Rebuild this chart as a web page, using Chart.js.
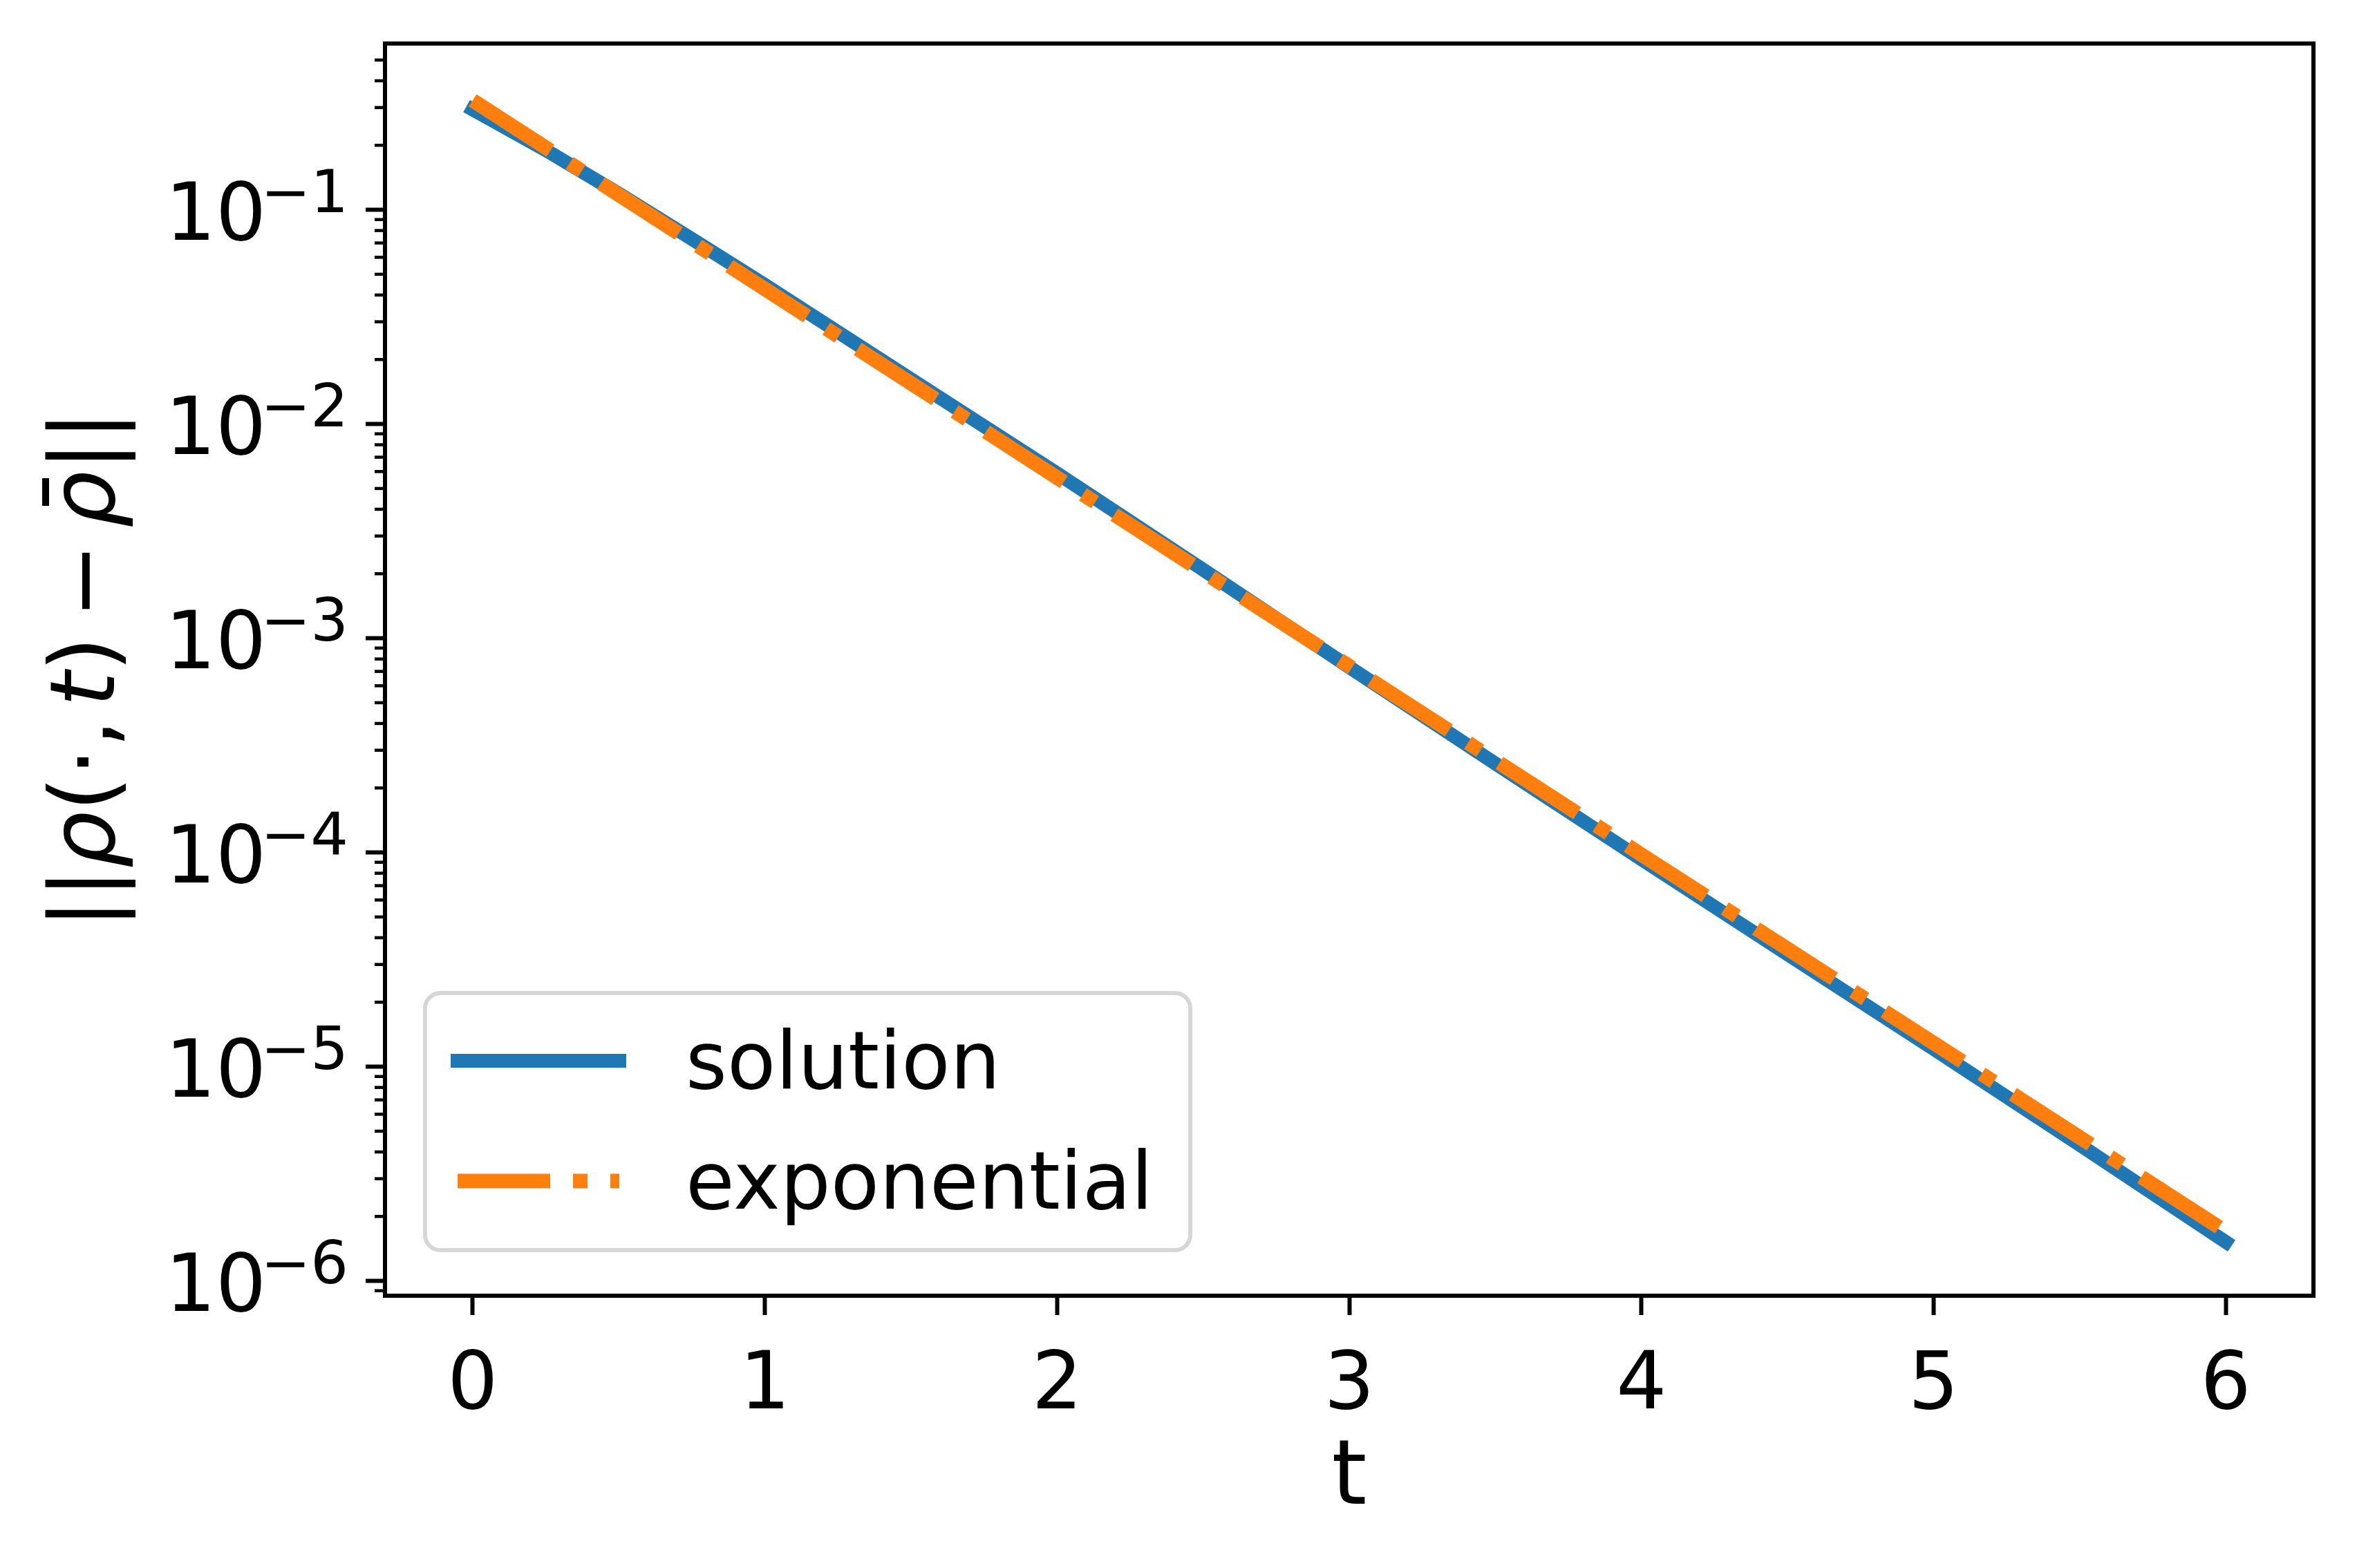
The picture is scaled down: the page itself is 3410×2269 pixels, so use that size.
<!DOCTYPE html>
<html>
<head>
<meta charset="utf-8">
<script src="https://cdn.jsdelivr.net/npm/chart.js@4.4.0/dist/chart.umd.min.js"></script>
<style>
  html, body { margin: 0; padding: 0; background: #fff; }
</style>
</head>
<body>
<canvas id="myChart" width="3410" height="2269"></canvas>
<script>
// values
const tValues = [0, 0.25, 0.5, 0.75, 1, 1.5, 2, 2.5, 3, 3.5, 4, 4.5, 5, 5.5, 6];
const solutionValues = [0.294, 0.190, 0.119, 0.0731, 0.0446, 0.0162, 0.00589, 0.00209,
    0.000733, 0.000260, 9.29e-5, 3.35e-5, 1.21e-5, 4.32e-6, 1.52e-6];
const exponentialValues = [0.324, 0.195, 0.1175, 0.0708, 0.0427, 0.0155, 0.00562, 0.00204,
    0.000741, 0.000269, 9.77e-5, 3.55e-5, 1.29e-5, 4.68e-6, 1.70e-6];

const seriesLabels = ['solution', 'exponential'];
const xTicks = [0, 1, 2, 3, 4, 5, 6];
const xTickLabels = ['0', '1', '2', '3', '4', '5', '6'];
const yDecades = [-7, -6, -5, -4, -3, -2, -1, 0];
const yTickExponents = ['\u22126', '\u22125', '\u22124', '\u22123', '\u22122', '\u22121'];

const FONT = '"DejaVu Sans", "Liberation Sans", sans-serif';

function logTicks(scale) {
    const ticks = [];
    yDecades.forEach(k => {
        for (let m = 1; m <= 9; m++) {
            const v = m * Math.pow(10, k);
            if (v >= scale.min && v <= scale.max) ticks.push({value: v, major: m === 1});
        }
    });
    scale.ticks = ticks;
}

const decor = {
    id: 'decor',
    afterDatasetsDraw(chart) {
        const {ctx, chartArea: a, scales} = chart;
        const y = scales.y;
        ctx.save();

        // frame
        ctx.strokeStyle = '#000';
        ctx.lineWidth = 6;
        ctx.strokeRect(a.left, a.top, a.right - a.left, a.bottom - a.top);

        // minor y ticks
        ctx.lineWidth = 4.5;
        y.ticks.forEach(t => {
            if (t.major) return;
            const py = y.getPixelForValue(t.value);
            ctx.beginPath();
            ctx.moveTo(a.left - 15, py);
            ctx.lineTo(a.left, py);
            ctx.stroke();
        });

        // y tick labels 10^k
        ctx.fillStyle = '#000';
        ctx.textAlign = 'right';
        ctx.textBaseline = 'alphabetic';
        let i = 0;
        y.ticks.forEach(t => {
            if (!t.major) return;
            const py = y.getPixelForValue(t.value);
            const sup = yTickExponents[i++];
            ctx.font = '86px ' + FONT;
            ctx.fillText(sup, 504, py + 3);
            const w = ctx.measureText(sup).width;
            ctx.font = '115px ' + FONT;
            ctx.fillText('10', 504 - w + 8, py + 43);
        });

        // y axis title ||rho(.,t) - rhobar||
        const F = 130;
        const parts = [
            {s: '||'}, {s: '\u03c1', it: true}, {s: '(\u00b7,'}, {gap: 18},
            {s: 't', it: true}, {s: ')'}, {gap: 26}, {s: '\u2212'}, {gap: 22},
            {s: '\u03c1', it: true, bar: true}, {s: '||'}
        ];
        const fontFor = p => (p.it ? 'italic ' : '') + F + 'px ' + FONT;
        let total = 0;
        parts.forEach(p => {
            if (p.gap) { total += p.gap; return; }
            ctx.font = fontFor(p);
            p.w = ctx.measureText(p.s).width;
            total += p.w;
        });
        ctx.translate(165, (a.top + a.bottom) / 2);
        ctx.rotate(-Math.PI / 2);
        ctx.textAlign = 'left';
        let x = -total / 2;
        parts.forEach(p => {
            if (p.gap) { x += p.gap; return; }
            ctx.font = fontFor(p);
            ctx.fillText(p.s, x, 0);
            if (p.bar) ctx.fillRect(x + 32, -104, 40, 10);
            x += p.w;
        });
        ctx.setTransform(1, 0, 0, 1, 0, 0);

        // legend
        const lg = {x: 615, y: 1437, w: 1107, h: 372, r: 22};
        ctx.beginPath();
        ctx.roundRect(lg.x, lg.y, lg.w, lg.h, lg.r);
        ctx.fillStyle = 'rgba(255,255,255,0.8)';
        ctx.fill();
        ctx.strokeStyle = '#d6d6d6';
        ctx.lineWidth = 6;
        ctx.stroke();
        const rows = [1535, 1709];
        chart.data.datasets.forEach((ds, k) => {
            const ly = rows[k];
            ctx.beginPath();
            ctx.setLineDash(ds.borderDash || []);
            ctx.lineCap = ds.borderCapStyle || 'butt';
            ctx.strokeStyle = ds.borderColor;
            ctx.lineWidth = ds.borderWidth;
            ctx.moveTo(662, ly);
            ctx.lineTo(896, ly);
            ctx.stroke();
            ctx.setLineDash([]);
            ctx.fillStyle = '#000';
            ctx.font = '115px ' + FONT;
            ctx.textAlign = 'left';
            ctx.fillText(ds.label, 992, ly + 40);
        });

        ctx.restore();
    }
};

new Chart(document.getElementById('myChart'), {
    type: 'line',
    data: {
        datasets: [{
            label: seriesLabels[0],
            data: tValues.map((t, i) => ({x: t, y: solutionValues[i]})),
            borderColor: '#1f77b4',
            borderWidth: 20,
            borderCapStyle: 'square',
            pointRadius: 0,
            tension: 0,
            order: 2,
        }, {
            label: seriesLabels[1],
            data: tValues.map((t, i) => ({x: t, y: exponentialValues[i]})),
            borderColor: '#ff7f0e',
            borderWidth: 21,
            borderDash: [134, 33, 21, 33],
            borderCapStyle: 'butt',
            pointRadius: 0,
            tension: 0,
            order: 1,
        }]
    },
    options: {
        responsive: false,
        animation: false,
        devicePixelRatio: 1,
        layout: {padding: {left: 0, top: 63, right: 63, bottom: 0}},
        plugins: {legend: {display: false}, tooltip: {enabled: false}},
        scales: {
            x: {
                type: 'linear',
                min: -0.3,
                max: 6.3,
                afterBuildTicks: s => { s.ticks = xTicks.map(v => ({value: v})); },
                afterFit: s => { s.height = 394; },
                grid: {drawOnChartArea: false, tickLength: 28, tickWidth: 6, tickColor: '#000'},
                border: {display: false},
                ticks: {
                    font: {family: FONT, size: 115},
                    color: '#000',
                    padding: 36,
                    maxRotation: 0,
                    autoSkip: false,
                    callback: (v, i) => xTickLabels[i],
                },
                title: {
                    display: true,
                    text: 't',
                    color: '#000',
                    font: {family: FONT, size: 130},
                    padding: {top: 0, bottom: 49},
                },
            },
            y: {
                type: 'logarithmic',
                min: 8.53e-7,
                max: 0.597,
                afterBuildTicks: logTicks,
                afterFit: s => { s.width = 557; },
                grid: {
                    drawOnChartArea: false,
                    tickLength: 28,
                    tickWidth: 6,
                    tickColor: c => (c.tick && c.tick.major) ? '#000' : 'rgba(0,0,0,0)',
                },
                border: {display: false},
                ticks: {display: false},
            }
        }
    },
    plugins: [decor]
});
</script>
</body>
</html>
